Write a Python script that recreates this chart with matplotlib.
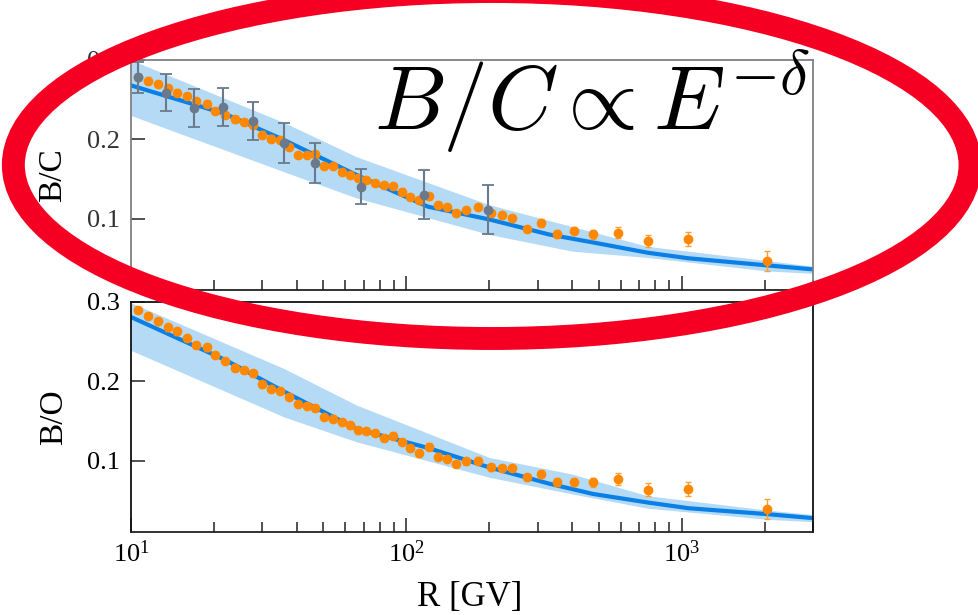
import numpy as np
import matplotlib
matplotlib.use('Agg')
import matplotlib.pyplot as plt
from matplotlib.patches import Ellipse
from matplotlib.ticker import LogLocator, NullFormatter

# AMS-like data points (rigidity in GV)
R_ams = [10.6, 11.55, 12.56, 13.65, 14.75, 15.91, 17.28, 18.81, 20.27, 21.93,
         23.95, 25.72, 27.75, 29.93, 32.37, 34.68, 37.40, 40.45, 43.69, 46.70,
         50.12, 54.04, 58.2, 62.6, 66.6, 71.4, 77.2, 83.2, 89.2, 96.5,
         103.1, 111.4, 120.4, 129.8, 140, 152, 165.4, 182.8, 202.7, 222.2,
         242.9, 275.2, 307.8, 353.4, 407, 476, 586, 753, 1059, 2050]
bc = [0.278, 0.274, 0.270, 0.265, 0.259, 0.255, 0.248, 0.245, 0.236, 0.231,
      0.225, 0.222, 0.218, 0.206, 0.201, 0.199, 0.190, 0.180, 0.180, 0.181,
      0.166, 0.166, 0.159, 0.155, 0.151, 0.149, 0.145, 0.1425, 0.141, 0.134,
      0.127, 0.123, 0.128, 0.1175, 0.1145, 0.107, 0.111, 0.1145, 0.107, 0.104,
      0.101, 0.087, 0.094, 0.081, 0.085, 0.080, 0.082, 0.0716, 0.0746, 0.0466]
bo = [0.290, 0.282, 0.2756, 0.268, 0.263, 0.255, 0.246, 0.2427, 0.2333, 0.2257,
      0.2173, 0.2143, 0.210, 0.196, 0.190, 0.1877, 0.1806, 0.171, 0.169, 0.1667,
      0.1553, 0.153, 0.149, 0.1443, 0.138, 0.137, 0.1346, 0.1287, 0.1316, 0.1232,
      0.116, 0.109, 0.1177, 0.105, 0.102, 0.0958, 0.0991, 0.100, 0.0915, 0.0908,
      0.0908, 0.0789, 0.0832, 0.0725, 0.0725, 0.0725, 0.0768, 0.0633, 0.0642, 0.0389]
err_ams = [0.004] * 40 + [0.004, 0.004, 0.005, 0.005, 0.005, 0.006, 0.007, 0.008, 0.009, 0.013]

# older B/C measurements (grey)
R_old = [10.57, 13.36, 16.9, 21.6, 27.75, 35.9, 46.5, 68.2, 116, 198.6]
bc_old = [0.278, 0.259, 0.240, 0.241, 0.223, 0.1955, 0.170, 0.140, 0.130, 0.111]
err_old = [0.020, 0.023, 0.024, 0.024, 0.024, 0.025, 0.025, 0.022, 0.031, 0.031]

# model curves and uncertainty bands
R_model = [10, 22, 36, 66, 120, 200, 330, 476, 753, 1059, 2050, 3000]
bc_model = [0.268, 0.232, 0.199, 0.155, 0.115, 0.099, 0.080, 0.070, 0.057, 0.050, 0.041, 0.036]
bo_model = [0.281, 0.227, 0.187, 0.140, 0.116, 0.0915, 0.071, 0.058, 0.0472, 0.040, 0.0325, 0.0275]

R_band = [10, 36, 66, 200, 400, 753, 2050, 3000]
bc_hi = [0.300, 0.221, 0.178, 0.1175, 0.090, 0.065, 0.047, 0.040]
bc_lo = [0.230, 0.159, 0.126, 0.080, 0.059, 0.051, 0.034, 0.031]
bo_hi = [0.299, 0.216, 0.170, 0.104, 0.083, 0.0557, 0.0376, 0.032]
bo_lo = [0.239, 0.155, 0.1237, 0.079, 0.058, 0.040, 0.026, 0.023]

plt.rcParams['font.family'] = ['Liberation Serif', 'DejaVu Serif']

W, H = 979, 615
fig = plt.figure(figsize=(W / 100, H / 100), dpi=100)


def px_axes(l, t, r, b):
    return fig.add_axes([l / W, 1 - b / H, (r - l) / W, (b - t) / H])


def style(ax, col):
    ax.set_xscale('log')
    ax.set_xlim(10, 3000)
    ax.set_ylim(0.01, 0.3)
    ax.set_yticks([0.1, 0.2, 0.3])
    ax.set_yticklabels(['0.1', '0.2', '0.3'])
    ax.xaxis.set_major_locator(LogLocator(base=10, numticks=10))
    ax.xaxis.set_minor_locator(LogLocator(base=10, subs=np.arange(2, 10), numticks=10))
    ax.xaxis.set_minor_formatter(NullFormatter())
    ax.tick_params(which='both', direction='in', top=False, right=False,
                   labelsize=19, width=1.1, color='#222222')
    ax.tick_params(which='major', length=10)
    ax.tick_params(which='minor', length=7.5)
    ax.tick_params(axis='y', pad=8)
    ax.tick_params(axis='x', pad=6)
    for s in ['left', 'top', 'right']:
        ax.spines[s].set_color(col)
        ax.spines[s].set_linewidth(1.3)
    ax.spines['bottom'].set_color('#222222')
    ax.spines['bottom'].set_linewidth(1.3)


ax1 = px_axes(131, 60, 813, 290)
ax2 = px_axes(131, 302, 813, 532)
style(ax1, '#808080')
style(ax2, '#111111')
ax1.tick_params(labelbottom=False)
ax1.tick_params(axis='y', labelcolor='#333333')

# top panel: B/C
ax1.fill_between(R_band, bc_lo, bc_hi, color='#b5daf6', lw=0, zorder=1)
ax1.plot(R_model, bc_model, color='#0a7fe6', lw=3, zorder=2)
ax1.errorbar(R_ams, bc, yerr=err_ams, fmt='o', ms=6, color='#ff8800',
             ecolor='#ffa030', elinewidth=1, capsize=2.5, zorder=3)
ax1.errorbar(R_old, bc_old, yerr=err_old, fmt='o', ms=6, color='#6a7a8c',
             elinewidth=1.5, capsize=4.5, capthick=1.3, zorder=4)

# bottom panel: B/O
ax2.fill_between(R_band, bo_lo, bo_hi, color='#b5daf6', lw=0, zorder=1)
ax2.plot(R_model, bo_model, color='#0a7fe6', lw=3, zorder=2)
ax2.errorbar(R_ams, bo, yerr=err_ams, fmt='o', ms=6, color='#ff8800',
             ecolor='#ffa030', elinewidth=1, capsize=2.5, zorder=3)

ax1.set_ylabel('B/C', fontsize=24, va='center')
ax1.yaxis.set_label_coords((53 - 131) / 682, 0.5)
ax2.set_ylabel('B/O', fontsize=24, va='center')
ax2.yaxis.set_label_coords((54 - 131) / 682, 0.5)
ax2.set_xlabel('R [GV]', fontsize=25)
ax2.xaxis.set_label_coords(0.497, -0.215)

fig.text(810 / W, 1 - 130 / H, r'$B/C \propto E^{-\delta}$', fontsize=65,
         math_fontfamily='cm', ha='right', va='baseline', zorder=5)

fig.add_artist(Ellipse((491.7 / W, 1 - 165 / H), 956.7 / W, 347 / H,
                       transform=fig.transFigure, fill=False,
                       ec='#f50022', lw=16.5, zorder=10))

fig.savefig('out.png', dpi=100)
